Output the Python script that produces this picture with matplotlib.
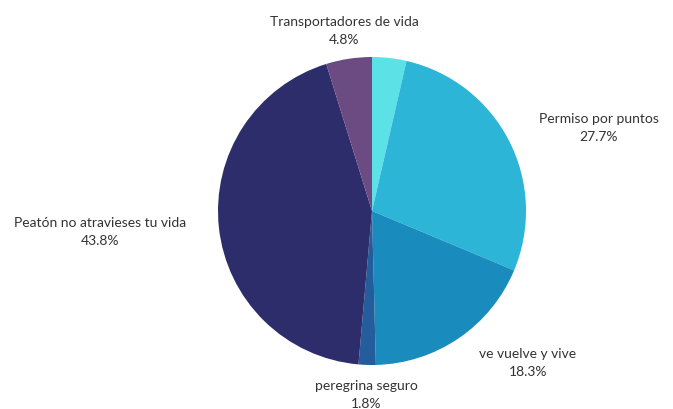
import numpy as np
import matplotlib
matplotlib.use("Agg")
import matplotlib.pyplot as plt

# slice order: clockwise from 12 o'clock
categories = ["", "Permiso por puntos", "ve vuelve y vive", "peregrina seguro",
              "Peatón no atravieses tu vida", "Transportadores de vida"]
shares = [3.6, 27.7, 18.3, 1.8, 43.8, 4.8]
colors = ["#5ce1e6", "#2cb5d6", "#1a8bbd", "#245d9c", "#2e2d6b", "#6c4a82"]

W, H = 673, 410
fig = plt.figure(figsize=(W / 100, H / 100), dpi=100)
ax = fig.add_axes([0, 0, 1, 1])

cx, cy, r = 372, 198, 154
wedges, _ = ax.pie(shares, colors=colors, startangle=90, counterclock=False,
                   center=(cx, cy), radius=r, frame=True)
ax.set_xlim(0, W)
ax.set_ylim(0, H)
ax.set_aspect("equal")
ax.axis("off")

total = sum(shares)
for w, name, val in zip(wedges, categories, shares):
    if not name:
        continue
    mid = np.deg2rad((w.theta1 + w.theta2) / 2)
    dx, dy = np.cos(mid), np.sin(mid)
    x, y = cx + dx * r * 1.19, cy + dy * r * 1.19
    if dx > 0.3:
        ha, x = "left", x + 4
    elif dx < -0.3:
        ha, x = "right", x - 4
    else:
        ha = "center"
    ax.text(x, y, f"{name}\n{val / total * 100:.1f}%", ha=ha, va="center",
            multialignment="center", fontsize=10, family="Lato",
            color="#333333", linespacing=1.6)

fig.savefig("out.png", dpi=100)
